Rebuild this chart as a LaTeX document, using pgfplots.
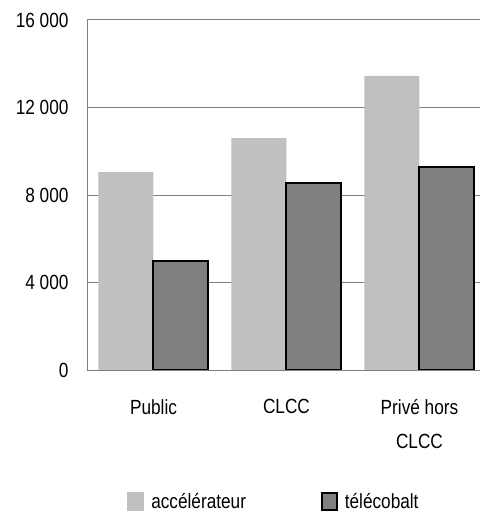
\documentclass[border=0pt]{standalone}
\usepackage{fontspec}
\setmainfont{Liberation Sans}
\newfontfamily\chartfont[FakeStretch=0.84]{Liberation Sans}
\usepackage{pgfplots}
\pgfplotsset{compat=1.18}
\definecolor{lightbar}{HTML}{C0C0C0}
\definecolor{darkbar}{HTML}{808080}
\definecolor{gridc}{HTML}{808080}
\begin{document}
\begin{tikzpicture}
\path[use as bounding box] (0,0) rectangle (480bp,514bp);
\begin{axis}[
 at={(87bp,144bp)}, anchor=south west,
 scale only axis, width=393bp, height=350bp,
 ymin=0, ymax=16000, xmin=-0.5, xmax=2.455,
 ytick={0,4000,8000,12000,16000},
 yticklabels={0,4 000,8 000,12 000,16 000},
 scaled y ticks=false,
 xtick={0,1,2},
 xticklabels={Public,CLCC,{Privé hors\\CLCC}},
 xticklabel style={align=center, font=\chartfont\fontsize{20.5bp}{34bp}\selectfont, anchor=north, yshift=-26bp},
 yticklabel style={font=\chartfont\fontsize{20.5bp}{24bp}\selectfont, anchor=east, xshift=-15bp},
 major tick length=0pt,
 axis x line=bottom, axis y line=left,
 axis line style={draw=gridc, line width=1pt, -},
 ymajorgrids, grid style={draw=gridc, line width=1pt},
 ybar=0pt, bar width=55bp,
 legend style={at={(0.102,-0.375)}, anchor=west, draw=none, fill=none, legend columns=2,
   font=\chartfont\fontsize{20.5bp}{24bp}\selectfont, inner sep=0pt,
   nodes={inner ysep=1bp},
   /tikz/every odd column/.append style={column sep=5bp},
   /tikz/every even column/.append style={column sep=73bp}},
]
\addplot[fill=lightbar, draw=none,
  legend image code/.code={\fill[lightbar] (0bp,-9.5bp) rectangle (17bp,9.5bp);}]
  coordinates {(0,9050) (1,10600) (2,13440)};
\addlegendentry{accélérateur}
\addplot[fill=darkbar, draw=black, line width=2bp,
  legend image code/.code={\draw[fill=darkbar, draw=black, line width=1.8bp] (0bp,-8.5bp) rectangle (15bp,8.5bp);}]
  coordinates {(0,5000) (1,8550) (2,9300)};
\addlegendentry{télécobalt}
\end{axis}
\end{tikzpicture}
\end{document}
